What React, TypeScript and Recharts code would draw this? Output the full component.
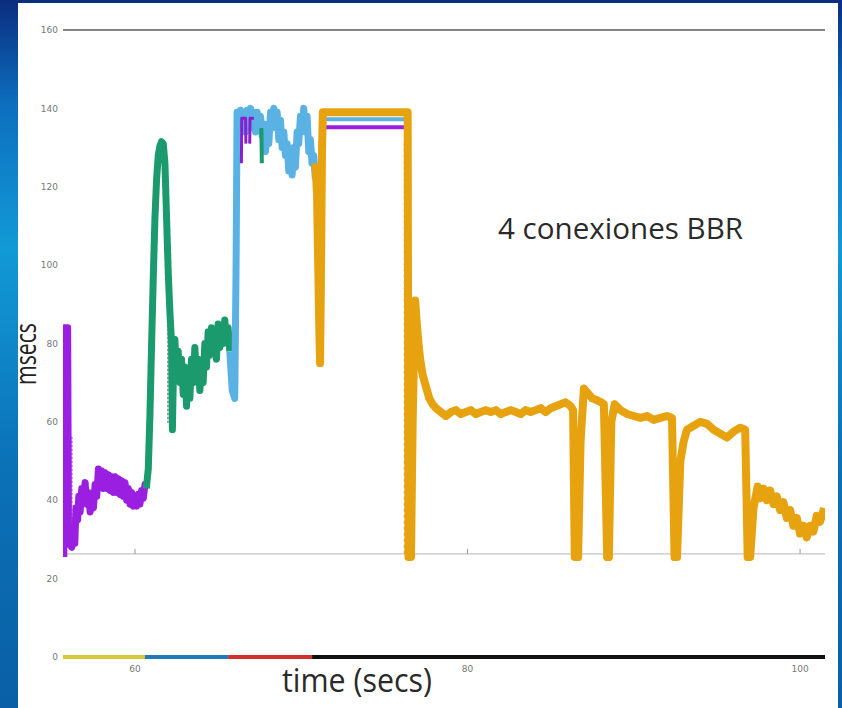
import { LineChart, Line, XAxis, YAxis, ReferenceLine } from "recharts";

// [time (s), msecs] pairs
const PURPLE: [number, number][] = [
  [55.72, 25.5], [55.74, 84], [55.95, 84], [56.0, 29], [56.2, 28], [56.3, 33], [56.38, 29],
  [56.45, 38], [56.55, 35], [56.62, 41], [56.7, 37], [56.8, 43], [56.9, 40], [57.0, 44.5],
  [57.1, 39], [57.2, 42], [57.3, 37], [57.4, 40], [57.5, 38], [57.6, 44], [57.7, 41],
  [57.8, 48], [57.9, 44], [58.0, 47.5], [58.1, 43], [58.2, 47], [58.3, 43], [58.4, 46.5],
  [58.5, 42.5], [58.6, 46], [58.7, 42], [58.8, 46], [58.9, 42], [59.0, 45.5], [59.1, 41.5],
  [59.2, 45], [59.3, 41], [59.4, 44.5], [59.5, 40], [59.6, 43], [59.7, 39], [59.8, 42],
  [59.9, 38.5], [60.0, 41], [60.1, 38.5], [60.2, 41.5], [60.3, 39], [60.4, 42.5],
  [60.5, 40.5], [60.6, 44], [60.68, 43],
];

const GREEN: [number, number][] = [
  [60.68, 43], [60.8, 48], [60.9, 62], [61.0, 80], [61.1, 97], [61.2, 112], [61.3, 122],
  [61.4, 128], [61.5, 130.5], [61.6, 131.5], [61.7, 131], [61.8, 126], [61.9, 112],
  [62.0, 98], [62.1, 88], [62.2, 80], [62.25, 58], [62.3, 70], [62.35, 78], [62.4, 81],
  [62.5, 72], [62.6, 78], [62.7, 70], [62.8, 76], [62.9, 67], [63.0, 74], [63.1, 64],
  [63.2, 72], [63.3, 66], [63.4, 76], [63.5, 70], [63.6, 79], [63.7, 72], [63.8, 76],
  [63.9, 68], [64.0, 75], [64.1, 70], [64.2, 80], [64.3, 74], [64.4, 83], [64.5, 77],
  [64.6, 84], [64.7, 78], [64.8, 82], [64.9, 76], [65.0, 85], [65.1, 79], [65.2, 84],
  [65.3, 80], [65.4, 86], [65.5, 81], [65.6, 84], [65.7, 78],
];

const GREEN_BIT: [number, number][] = [[67.6, 135], [67.63, 126]];

const BLUE: [number, number][] = [
  [65.7, 78], [65.85, 68], [66.0, 66], [66.08, 100], [66.14, 139], [66.25, 136],
  [66.35, 139.5], [66.45, 135], [66.55, 139], [66.65, 134], [66.75, 139.5], [66.85, 136],
  [66.95, 140], [67.05, 135], [67.15, 139], [67.25, 134], [67.35, 139], [67.45, 135],
  [67.55, 138], [67.65, 133], [67.75, 136], [67.85, 129], [67.95, 134], [68.05, 131],
  [68.15, 139], [68.25, 135], [68.35, 140], [68.45, 136], [68.55, 139], [68.65, 132],
  [68.75, 137], [68.85, 130], [68.95, 134], [69.05, 128], [69.15, 131], [69.25, 124],
  [69.35, 129], [69.45, 123], [69.55, 130], [69.65, 125], [69.75, 134], [69.85, 131],
  [69.95, 138], [70.05, 135], [70.15, 140], [70.25, 134], [70.35, 138], [70.45, 129],
  [70.55, 132], [70.65, 126], [70.75, 128], [70.85, 122],
];

const PURPLE_HOOK: [number, number | null][] = [
  [66.4, 126], [66.42, 137.5], [66.65, 137.5], [66.67, 131], [66.75, null],
  [66.9, 131], [66.92, 137.5], [67.15, 137.5],
];

const PURPLE_FLAT: [number, number][] = [[71.35, 135.2], [76.42, 135.2]];
const BLUE_FLAT: [number, number][] = [[71.35, 137.2], [76.42, 137.2]];

const ORANGE: [number, number][] = [
  [70.85, 126], [70.95, 118], [71.02, 100], [71.08, 85], [71.13, 75], [71.18, 95],
  [71.25, 130], [71.3, 139], [76.4, 139], [76.45, 25.5], [76.6, 25.5], [76.7, 60],
  [76.85, 91], [76.95, 85], [77.05, 80], [77.15, 76], [77.3, 72], [77.5, 69], [77.7, 66],
  [77.9, 64.5], [78.1, 63.5], [78.4, 62.5], [78.7, 61.5], [79.0, 62.5], [79.3, 63],
  [79.6, 62], [79.9, 62.5], [80.2, 63], [80.5, 62], [80.8, 62.5], [81.1, 63], [81.4, 62.5],
  [81.7, 63], [82.0, 62], [82.3, 62.5], [82.6, 63], [82.9, 62.5], [83.2, 62], [83.5, 63],
  [83.8, 62.5], [84.1, 63], [84.4, 63.5], [84.7, 62.5], [85.0, 63.5], [85.3, 64],
  [85.6, 64.5], [85.9, 65], [86.2, 64], [86.35, 63], [86.45, 25.5], [86.65, 25.5],
  [86.8, 55], [87.0, 68.5], [87.2, 67.5], [87.5, 66], [87.8, 65.5], [88.05, 65],
  [88.2, 64.5], [88.4, 25.5], [88.5, 25.5], [88.65, 60], [88.85, 64.5], [89.2, 63],
  [89.6, 62], [90.0, 61.5], [90.4, 61], [90.8, 61.5], [91.2, 60.5], [91.6, 61], [92.0, 61.5],
  [92.3, 61], [92.45, 25.5], [92.6, 25.5], [92.8, 50], [93.0, 55], [93.2, 58], [93.6, 59],
  [94.0, 60], [94.4, 59.5], [94.8, 58], [95.2, 57], [95.6, 56], [96.0, 57.5], [96.4, 58.5],
  [96.7, 58], [96.85, 25.5], [97.0, 25.5], [97.2, 38], [97.45, 43.5], [97.6, 40.5],
  [97.8, 43], [98.0, 40], [98.2, 42.5], [98.4, 39], [98.6, 41], [98.8, 37.5], [99.0, 39.5],
  [99.2, 35.5], [99.4, 37.5], [99.6, 33.5], [99.8, 35.5], [100.0, 31.5], [100.2, 33.5],
  [100.4, 30.5], [100.6, 33.5], [100.8, 32], [101.0, 36], [101.2, 34.5], [101.45, 38],
];

// dotted stragglers
const PINK_DOTS: [number, number][] = [[56.2, 56], [56.2, 29]];
const GREEN_DOTS: [number, number][] = [[61.98, 106], [61.98, 60]];
const ORANGE_DOTS: [number, number][] = [[76.25, 131], [76.25, 26]];

// time bar along y = 0
const BAR_YELLOW: [number, number][] = [[55.67, 0], [60.6, 0]];
const BAR_BLUE: [number, number][] = [[60.6, 0], [65.6, 0]];
const BAR_RED: [number, number][] = [[65.6, 0], [70.65, 0]];
const BAR_BLACK: [number, number][] = [[70.65, 0], [101.5, 0]];

const X_TICKS = [60, 80, 100];
const Y_TICKS = [0, 20, 40, 60, 80, 100, 120, 140, 160];
const FLOOR = 26.3;

const rows = (pts: [number, number | null][]) => pts.map(([t, v]) => ({ t, v }));

const tickStyle = { fontSize: 9, fill: "#777", fontFamily: "DejaVu Sans" };

function series(pts: [number, number | null][], color: string, width: number, dash?: string) {
  return (
    <Line
      data={rows(pts)}
      dataKey="v"
      type="linear"
      stroke={color}
      strokeWidth={width}
      strokeDasharray={dash}
      strokeLinejoin="round"
      strokeLinecap={dash ? "round" : "butt"}
      dot={false}
      activeDot={false}
      isAnimationActive={false}
    />
  );
}

export default function App() {
  return (
    <div
      style={{
        position: "relative",
        width: 842,
        height: 708,
        background:
          "linear-gradient(180deg, #0b2d7f 0%, #0d6fc0 15%, #129ad6 35%, #0b72b8 65%, #0a5fa5 100%)",
        overflow: "hidden",
      }}
    >
      <style>{`body{margin:0}`}</style>
      <div style={{ position: "absolute", left: 18, top: 3, width: 820, height: 705, background: "#fff" }} />
      <div style={{ position: "absolute", left: 0, top: 0 }}>
        <LineChart width={842} height={708} margin={{ top: 30, right: 17, bottom: 31, left: 0 }}>
          <XAxis
            dataKey="t"
            type="number"
            domain={[55.67, 101.5]}
            ticks={X_TICKS}
            allowDataOverflow
            axisLine={false}
            tickLine={false}
            tickSize={0}
            tickMargin={9}
            height={20}
            tick={tickStyle}
          />
          <YAxis
            type="number"
            domain={[0, 160]}
            ticks={Y_TICKS}
            axisLine={false}
            tickLine={false}
            tickSize={0}
            tickMargin={5}
            width={63}
            tick={tickStyle}
          />
          <ReferenceLine y={160} stroke="#858585" strokeWidth={2} />
          <ReferenceLine y={FLOOR} stroke="#b5b5b5" strokeWidth={1} />
          {X_TICKS.map((x) => (
            <ReferenceLine
              key={x}
              segment={[{ x, y: FLOOR }, { x, y: FLOOR + 1.3 }]}
              stroke="#999"
            />
          ))}
          {series(BAR_YELLOW, "#d6c83a", 4)}
          {series(BAR_BLUE, "#1f7ab6", 4)}
          {series(BAR_RED, "#d0312f", 4)}
          {series(BAR_BLACK, "#111111", 4)}
          {series(PINK_DOTS, "#e27ae8", 2, "1 3")}
          {series(GREEN_DOTS, "#8fa6a0", 2, "1 3")}
          {series(PURPLE, "#9a1fe0", 7)}
          {series(GREEN, "#1b9a6e", 7)}
          {series(BLUE, "#5ab1e3", 7)}
          {series(GREEN_BIT, "#1b9a6e", 4)}
          {series(PURPLE_HOOK, "#8a1fd0", 3)}
          {series(PURPLE_FLAT, "#9a1fe0", 4)}
          {series(BLUE_FLAT, "#5ab1e3", 4)}
          {series(ORANGE_DOTS, "#d9a63a", 3, "1 5")}
          {series(ORANGE, "#e7a20f", 8)}
        </LineChart>
      </div>
      <svg
        width={842}
        height={708}
        style={{ position: "absolute", left: 0, top: 0, pointerEvents: "none" }}
        fontFamily="'Open Sans', sans-serif"
      >
        <text
          transform="translate(36 354) rotate(-90)"
          textAnchor="middle"
          fontSize={30}
          fill="#222"
          textLength={62}
          lengthAdjust="spacingAndGlyphs"
        >
          msecs
        </text>
        <text
          x={282}
          y={692}
          fontSize={33}
          fill="#2a2a2a"
          textLength={150}
          lengthAdjust="spacingAndGlyphs"
        >
          time (secs)
        </text>
        <text
          x={498}
          y={239}
          fontSize={30}
          fill="#2a2a2a"
          textLength={245}
          lengthAdjust="spacingAndGlyphs"
        >
          4 conexiones BBR
        </text>
      </svg>
    </div>
  );
}
